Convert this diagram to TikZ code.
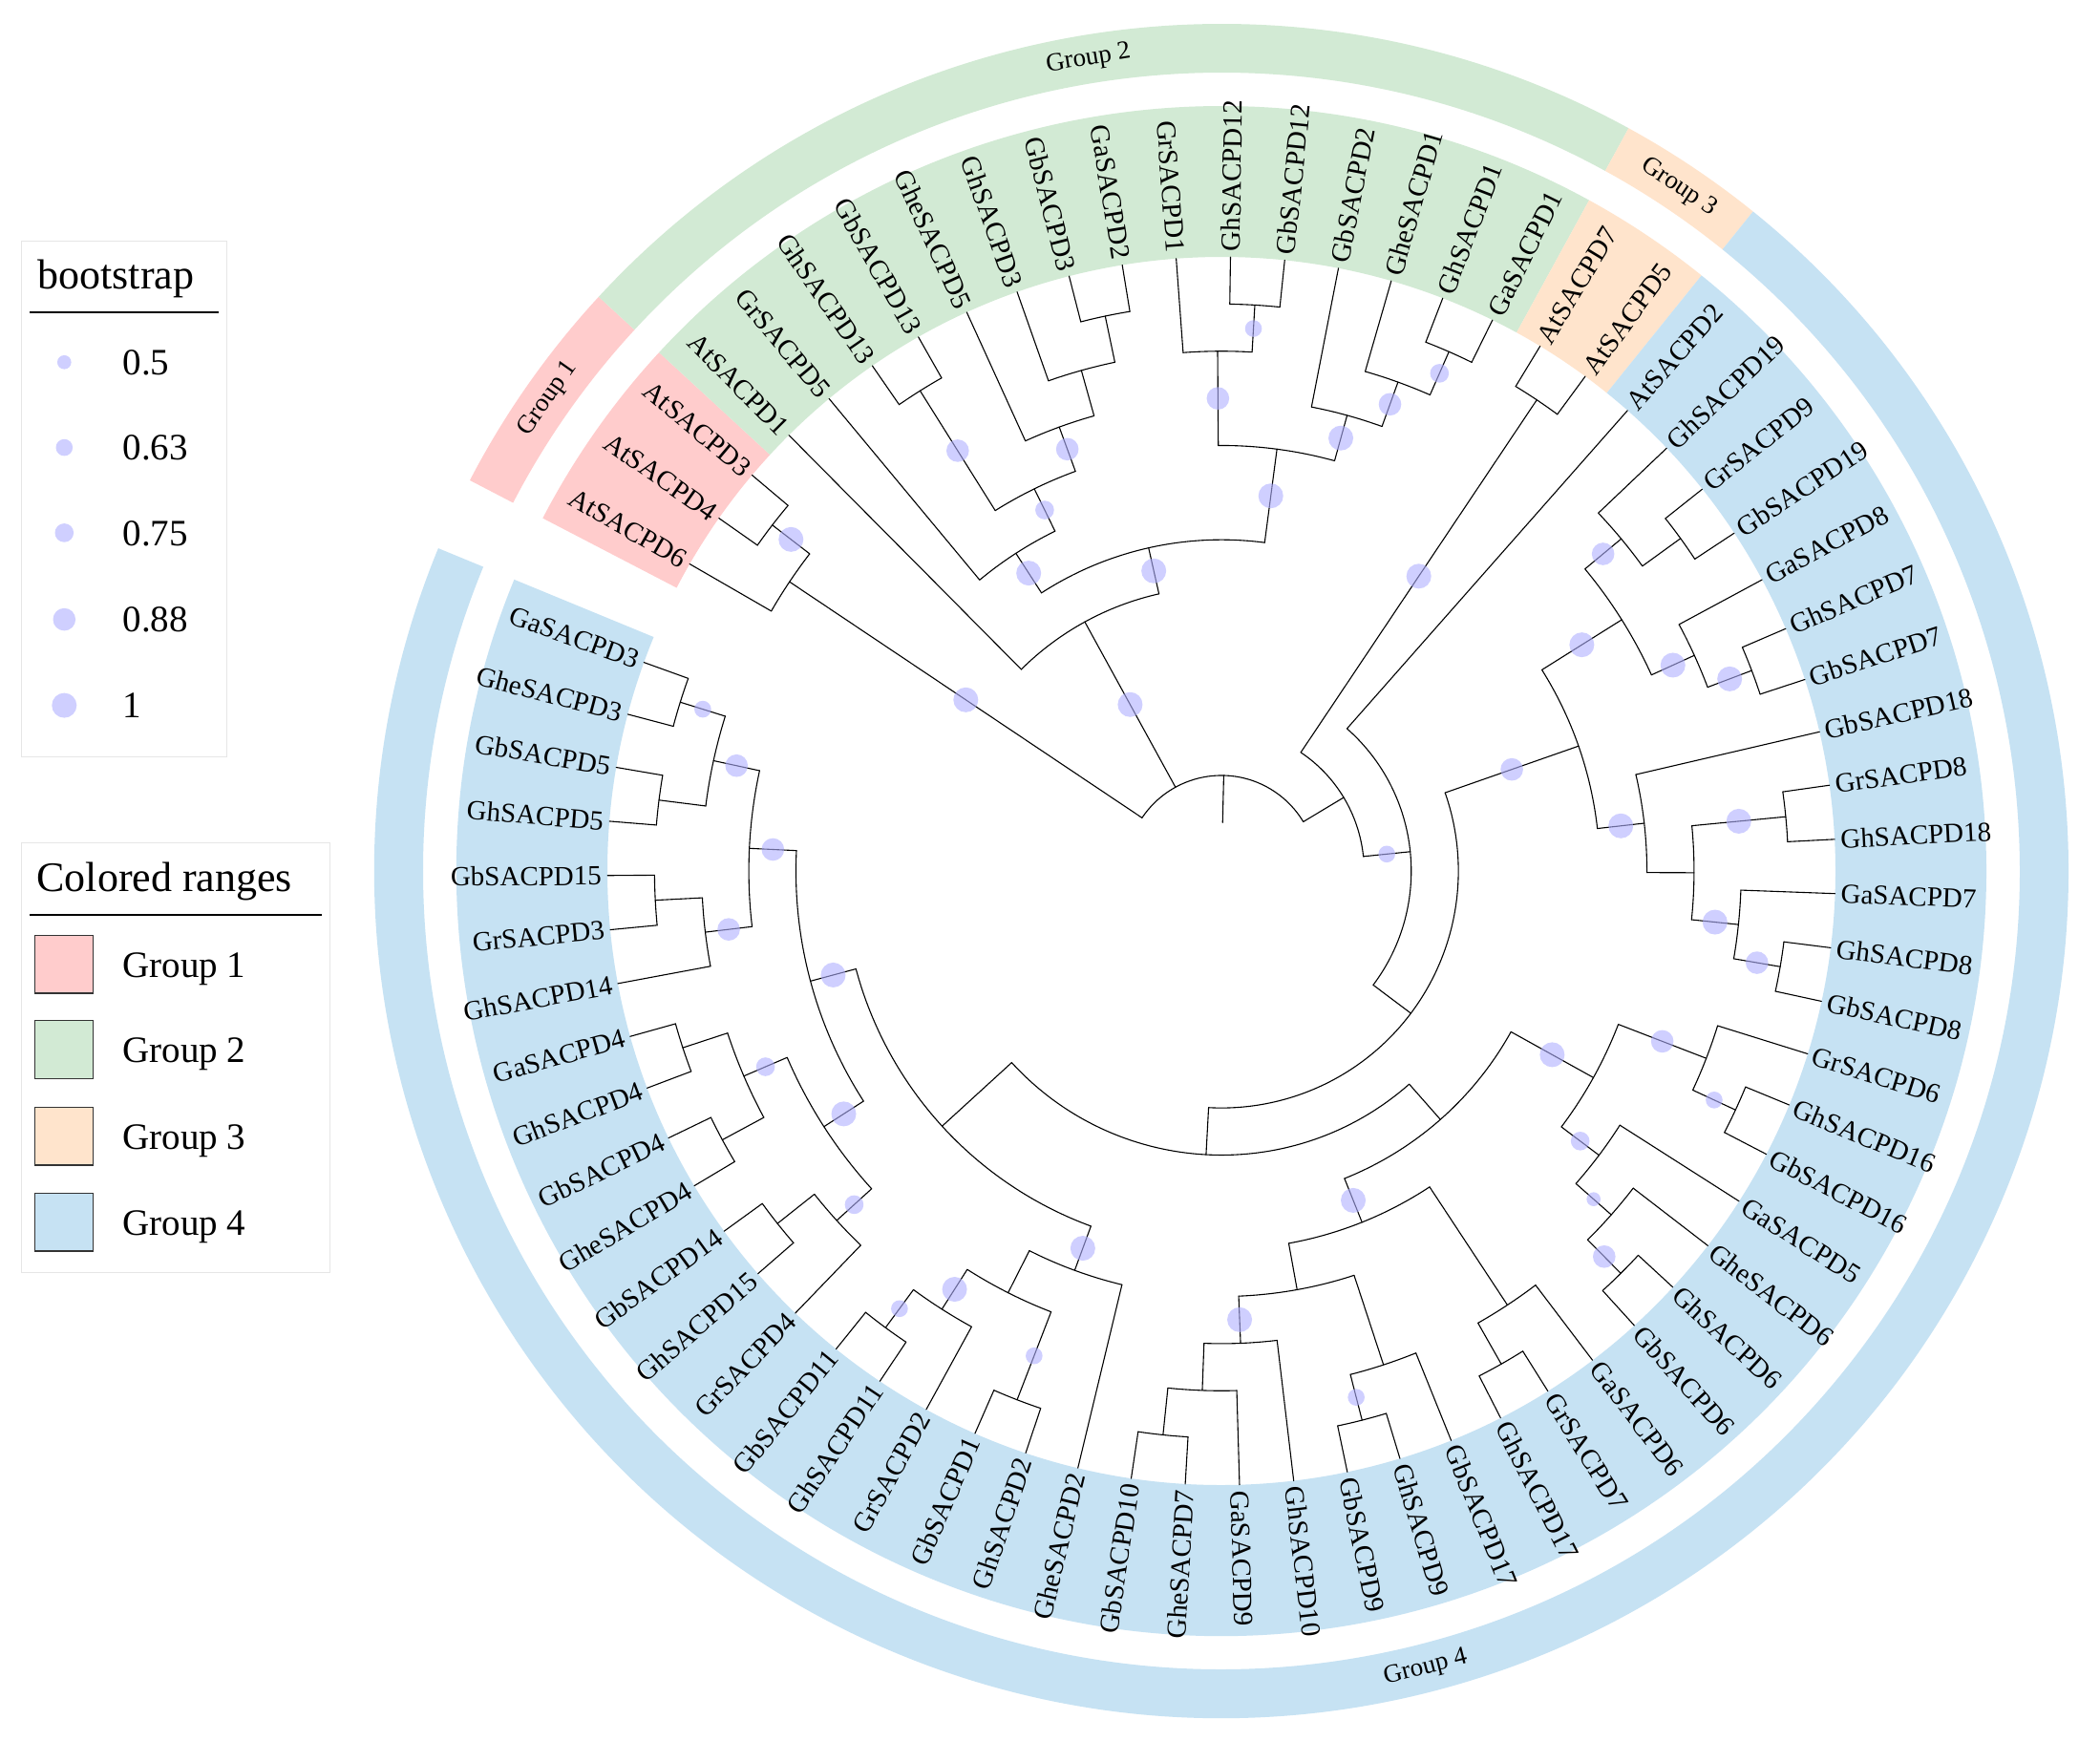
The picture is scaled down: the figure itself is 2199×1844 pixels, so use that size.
\documentclass[tikz,border=0pt]{standalone}
\usepackage{fontspec}
\setmainfont{Liberation Serif}
\definecolor{gone}{RGB}{255,204,204}
\definecolor{gtwo}{RGB}{210,234,212}
\definecolor{gthree}{RGB}{255,228,204}
\definecolor{gfour}{RGB}{198,226,243}
\definecolor{bsc}{RGB}{175,175,255}
\definecolor{legline}{RGB}{230,230,230}
\tikzset{
  br/.style={line width=1.1pt, black, line cap=round},
  bs/.style={fill=bsc, fill opacity=0.6},
  lbl/.style={inner sep=0pt, font=\fontsize{29}{29}\selectfont},
  grp/.style={inner sep=0pt, font=\fontsize{27}{27}\selectfont},
  legbox/.style={draw=legline, line width=1pt},
  legtitle/.style={anchor=base west, inner sep=0pt, font=\fontsize{44}{44}\selectfont},
  legitem/.style={anchor=base west, inner sep=0pt, font=\fontsize{39}{39}\selectfont},
  swatch/.style={draw=black!80, line width=1.5pt}
}
\newcommand\myDA{5.0704225}
% radial edge: child index, parent level, child level
\newcommand\tEdge[3]{\draw[br] ({150-(#1)*\myDA}:{643-49.36*(#2)}) -- ({150-(#1)*\myDA}:{643-49.36*(#3)});}
% arc: level, first index, last index
\newcommand\tArc[3]{\draw[br] ({150-(#2)*\myDA}:{643-49.36*(#1)}) arc[start angle={150-(#2)*\myDA}, end angle={150-(#3)*\myDA}, radius={643-49.36*(#1)}];}
% cherry of two leaves
\newcommand\tCh[2]{\tArc{1}{#1}{#2}\tEdge{#1}{1}{0}\tEdge{#2}{1}{0}}
% bootstrap: child index, parent level, child level, radius
\newcommand\tBs[4]{\fill[bs] ({150-(#1)*\myDA}:{643-24.68*((#2)+(#3))}) circle[radius=#4];}
% leaf labels right / left
\newcommand\tLR[2]{\node[lbl, anchor=west, rotate={150-(#1)*\myDA}] (lf#1) at ({150-(#1)*\myDA}:649) {#2};}
\newcommand\tLL[2]{\node[lbl, anchor=east, rotate={330-(#1)*\myDA}] (lf#1) at ({150-(#1)*\myDA}:649) {#2};}
% annular sector: colour, a1, a2, rin, rout
\newcommand\tSec[5]{\fill[#1] ({#2}:#4) arc[start angle={#2}, end angle={#3}, radius=#4] -- ({#3}:#5) arc[start angle={#3}, end angle={#2}, radius=#5] -- cycle;}
\begin{document}
\begin{tikzpicture}[x=1pt,y=1pt]
\useasboundingbox (0,0) rectangle (2199,-1844);
\fill[white] (0,0) rectangle (2199,-1844);
\begin{scope}[shift={(1279,-912)}]
% colored label bands
\tSec{gone}{152.535}{137.324}{643}{801}
\tSec{gtwo}{137.324}{61.268}{643}{801}
\tSec{gthree}{61.268}{51.127}{643}{801}
\tSec{gfour}{51.127}{-202.394}{643}{801}
% outer ring
\tSec{gone}{152.535}{137.324}{836}{887}
\tSec{gtwo}{137.324}{61.268}{836}{887}
\tSec{gthree}{61.268}{51.127}{836}{887}
\tSec{gfour}{51.127}{-202.394}{836}{887}
\node[grp, rotate=54.93] (grpone) at (144.93:861.5) {Group 1};
\node[grp, rotate=9.30] (grptwo) at (99.30:861.5) {Group 2};
\node[grp, rotate=-33.80] (grpthree) at (56.20:861.5) {Group 3};
\node[grp, rotate=14.37] (grpfour) at (-75.63:861.5) {Group 4};
% ---------------- tree ----------------
% root
\tEdge{12.108}{12}{11}
\tArc{11}{0.75}{23.4658203125}
\tEdge{0.75}{11}{2}\tEdge{6.1640625}{11}{7}\tEdge{23.4658203125}{11}{10}
% group 1
\tArc{2}{0}{1.5}\tEdge{0}{2}{0}\tEdge{1.5}{2}{1}
\tCh{1}{2}
% group 2
\tArc{7}{3}{9.328125}\tEdge{3}{7}{0}\tEdge{9.328125}{7}{6}
\tArc{6}{5.34375}{13.3125}\tEdge{5.34375}{6}{5}\tEdge{13.3125}{6}{4}
\tArc{5}{4}{6.6875}\tEdge{4}{5}{0}\tEdge{6.6875}{5}{4}
\tArc{4}{5.5}{7.875}\tEdge{5.5}{4}{1}\tEdge{7.875}{4}{3}
\tCh{5}{6}
\tArc{3}{7}{8.75}\tEdge{7}{3}{0}\tEdge{8.75}{3}{2}
\tArc{2}{8}{9.5}\tEdge{8}{2}{0}\tEdge{9.5}{2}{1}
\tCh{9}{10}
\tArc{4}{11.75}{14.875}\tEdge{11.75}{4}{2}\tEdge{14.875}{4}{3}
\tArc{2}{11}{12.5}\tEdge{11}{2}{0}\tEdge{12.5}{2}{1}
\tCh{12}{13}
\tArc{3}{14}{15.75}\tEdge{14}{3}{0}\tEdge{15.75}{3}{2}
\tArc{2}{15}{16.5}\tEdge{15}{2}{0}\tEdge{16.5}{2}{1}
\tCh{16}{17}
% right clade
\tArc{10}{18.5}{28.431640625}\tEdge{18.5}{10}{1}\tEdge{28.431640625}{10}{9}
\tCh{18}{19}
\tArc{9}{20}{36.86328125}\tEdge{20}{9}{0}\tEdge{36.86328125}{9}{8}
\tArc{8}{25.78125}{47.9453125}\tEdge{25.78125}{8}{5}\tEdge{47.9453125}{8}{7}
\tArc{5}{23.25}{28.3125}\tEdge{23.25}{5}{3}\tEdge{28.3125}{5}{4}
\tArc{3}{21.75}{24.75}\tEdge{21.75}{3}{2}\tEdge{24.75}{3}{2}
\tArc{2}{21}{22.5}\tEdge{21}{2}{0}\tEdge{22.5}{2}{1}
\tCh{22}{23}
\tArc{2}{24}{25.5}\tEdge{24}{2}{0}\tEdge{25.5}{2}{1}
\tCh{25}{26}
\tArc{4}{27}{29.625}\tEdge{27}{4}{0}\tEdge{29.625}{4}{3}
\tArc{3}{28.5}{30.75}\tEdge{28.5}{3}{1}\tEdge{30.75}{3}{2}
\tCh{28}{29}
\tArc{2}{30}{31.5}\tEdge{30}{2}{0}\tEdge{31.5}{2}{1}
\tCh{31}{32}
% K
\tArc{7}{39.171875}{56.71875}\tEdge{39.171875}{7}{6}\tEdge{56.71875}{7}{5}
\tArc{6}{35.3125}{43.03125}\tEdge{35.3125}{6}{4}\tEdge{43.03125}{6}{5}
\tArc{4}{33.75}{36.875}\tEdge{33.75}{4}{2}\tEdge{36.875}{4}{3}
\tArc{2}{33}{34.5}\tEdge{33}{2}{0}\tEdge{34.5}{2}{1}
\tCh{34}{35}
\tArc{3}{36}{37.75}\tEdge{36}{3}{0}\tEdge{37.75}{3}{2}
\tArc{2}{37}{38.5}\tEdge{37}{2}{0}\tEdge{38.5}{2}{1}
\tCh{38}{39}
\tArc{5}{40.75}{45.3125}\tEdge{40.75}{5}{2}\tEdge{45.3125}{5}{4}
\tArc{2}{40}{41.5}\tEdge{40}{2}{0}\tEdge{41.5}{2}{1}
\tCh{41}{42}
\tArc{4}{43.75}{46.875}\tEdge{43.75}{4}{2}\tEdge{46.875}{4}{3}
\tArc{2}{43}{44.5}\tEdge{43}{2}{0}\tEdge{44.5}{2}{1}
\tCh{44}{45}
\tArc{3}{46}{47.75}\tEdge{46}{3}{0}\tEdge{47.75}{3}{2}
\tArc{2}{47}{48.5}\tEdge{47}{2}{0}\tEdge{48.5}{2}{1}
\tCh{48}{49}
% M
\tArc{5}{51.3125}{62.125}\tEdge{51.3125}{5}{4}\tEdge{62.125}{5}{4}
\tArc{4}{50}{52.625}\tEdge{50}{4}{0}\tEdge{52.625}{4}{3}
\tArc{3}{51.5}{53.75}\tEdge{51.5}{3}{1}\tEdge{53.75}{3}{2}
\tCh{51}{52}
\tArc{2}{53}{54.5}\tEdge{53}{2}{0}\tEdge{54.5}{2}{1}
\tCh{54}{55}
\tArc{4}{58.625}{65.625}\tEdge{58.625}{4}{3}\tEdge{65.625}{4}{3}
\tArc{3}{56.75}{60.5}\tEdge{56.75}{3}{2}\tEdge{60.5}{3}{2}
\tArc{2}{56}{57.5}\tEdge{56}{2}{0}\tEdge{57.5}{2}{1}
\tCh{57}{58}
\tArc{2}{59.5}{61.5}\tEdge{59.5}{2}{1}\tEdge{61.5}{2}{1}
\tCh{59}{60}
\tCh{61}{62}
\tArc{3}{63.75}{67.5}\tEdge{63.75}{3}{2}\tEdge{67.5}{3}{2}
\tArc{2}{63}{64.5}\tEdge{63}{2}{0}\tEdge{64.5}{2}{1}
\tCh{64}{65}
\tArc{2}{66.5}{68.5}\tEdge{66.5}{2}{1}\tEdge{68.5}{2}{1}
\tCh{66}{67}
\tCh{68}{69}
% ---------------- bootstrap ----------------
\tBs{1.5}{2}{1}{13}
\tBs{0.75}{11}{2}{13}
\tBs{6.1640625}{11}{7}{13}
\tBs{9.328125}{7}{6}{13}
\tBs{5.34375}{6}{5}{13}
\tBs{6.6875}{5}{4}{9.8}
\tBs{7.875}{4}{3}{11.8}
\tBs{5.5}{4}{1}{11.8}
\tBs{13.3125}{6}{4}{13}
\tBs{11.75}{4}{2}{11.8}
\tBs{12.5}{2}{1}{8.8}
\tBs{14.875}{4}{3}{13}
\tBs{15.75}{3}{2}{11.8}
\tBs{16.5}{2}{1}{9.8}
\tBs{18.5}{10}{1}{13}
\tBs{28.431640625}{10}{9}{8.8}
\tBs{25.78125}{8}{5}{11.8}
\tBs{23.25}{5}{3}{13}
\tBs{21.75}{3}{2}{11.8}
\tBs{24.75}{3}{2}{13}
\tBs{25.5}{2}{1}{13}
\tBs{28.3125}{5}{4}{13}
\tBs{28.5}{3}{1}{13}
\tBs{30.75}{3}{2}{13}
\tBs{31.5}{2}{1}{11.8}
\tBs{35.3125}{6}{4}{13}
\tBs{33.75}{4}{2}{11.8}
\tBs{34.5}{2}{1}{8.8}
\tBs{36.875}{4}{3}{9.8}
\tBs{37.75}{3}{2}{7.3}
\tBs{38.5}{2}{1}{11.8}
\tBs{43.03125}{6}{5}{13}
\tBs{46.875}{4}{3}{13}
\tBs{44.5}{2}{1}{8.8}
\tBs{62.125}{5}{4}{13}
\tBs{65.625}{4}{3}{11.8}
\tBs{67.5}{3}{2}{11.8}
\tBs{68.5}{2}{1}{8.8}
\tBs{63.75}{3}{2}{11.8}
\tBs{58.625}{4}{3}{13}
\tBs{60.5}{3}{2}{9.8}
\tBs{56.75}{3}{2}{9.8}
\tBs{51.3125}{5}{4}{13}
\tBs{53.75}{3}{2}{13}
\tBs{54.5}{2}{1}{8.8}
\tBs{51.5}{3}{1}{8.8}
% ---------------- leaf labels ----------------
\tLL{0}{AtSACPD6}
\tLL{1}{AtSACPD4}
\tLL{2}{AtSACPD3}
\tLL{3}{AtSACPD1}
\tLL{4}{GrSACPD5}
\tLL{5}{GhSACPD13}
\tLL{6}{GbSACPD13}
\tLL{7}{GheSACPD5}
\tLL{8}{GhSACPD3}
\tLL{9}{GbSACPD3}
\tLL{10}{GaSACPD2}
\tLL{11}{GrSACPD1}
\tLR{12}{GhSACPD12}
\tLR{13}{GbSACPD12}
\tLR{14}{GbSACPD2}
\tLR{15}{GheSACPD1}
\tLR{16}{GhSACPD1}
\tLR{17}{GaSACPD1}
\tLR{18}{AtSACPD7}
\tLR{19}{AtSACPD5}
\tLR{20}{AtSACPD2}
\tLR{21}{GhSACPD19}
\tLR{22}{GrSACPD9}
\tLR{23}{GbSACPD19}
\tLR{24}{GaSACPD8}
\tLR{25}{GhSACPD7}
\tLR{26}{GbSACPD7}
\tLR{27}{GbSACPD18}
\tLR{28}{GrSACPD8}
\tLR{29}{GhSACPD18}
\tLR{30}{GaSACPD7}
\tLR{31}{GhSACPD8}
\tLR{32}{GbSACPD8}
\tLR{33}{GrSACPD6}
\tLR{34}{GhSACPD16}
\tLR{35}{GbSACPD16}
\tLR{36}{GaSACPD5}
\tLR{37}{GheSACPD6}
\tLR{38}{GhSACPD6}
\tLR{39}{GbSACPD6}
\tLR{40}{GaSACPD6}
\tLR{41}{GrSACPD7}
\tLR{42}{GhSACPD17}
\tLR{43}{GbSACPD17}
\tLR{44}{GhSACPD9}
\tLR{45}{GbSACPD9}
\tLR{46}{GhSACPD10}
\tLR{47}{GaSACPD9}
\tLL{48}{GheSACPD7}
\tLL{49}{GbSACPD10}
\tLL{50}{GheSACPD2}
\tLL{51}{GhSACPD2}
\tLL{52}{GbSACPD1}
\tLL{53}{GrSACPD2}
\tLL{54}{GhSACPD11}
\tLL{55}{GbSACPD11}
\tLL{56}{GrSACPD4}
\tLL{57}{GhSACPD15}
\tLL{58}{GbSACPD14}
\tLL{59}{GheSACPD4}
\tLL{60}{GbSACPD4}
\tLL{61}{GhSACPD4}
\tLL{62}{GaSACPD4}
\tLL{63}{GhSACPD14}
\tLL{64}{GrSACPD3}
\tLL{65}{GbSACPD15}
\tLL{66}{GhSACPD5}
\tLL{67}{GbSACPD5}
\tLL{68}{GheSACPD3}
\tLL{69}{GaSACPD3}
\end{scope}
% ---------------- legend ----------------
\draw[legbox] (22.7,-252.9) rectangle (237.3,-792);
\node[legtitle] (bttitle) at (39.3,-302.9) {bootstrap};
\draw[line width=1.2pt] (31,-327) -- (229.3,-327);
\fill[bs] (67.3,-379.3) circle[radius=7.3];
\fill[bs] (67.3,-468.6) circle[radius=8.8];
\fill[bs] (67.3,-557.9) circle[radius=9.8];
\fill[bs] (67.3,-648.6) circle[radius=11.8];
\fill[bs] (67.3,-738.6) circle[radius=13];
\node[legitem] (bta) at (128.3,-392.5) {0.5};
\node[legitem] (btb) at (128.3,-481.8) {0.63};
\node[legitem] (btc) at (128.3,-571.1) {0.75};
\node[legitem] (btd) at (128.3,-661.8) {0.88};
\node[legitem] (bte) at (128.3,-751.8) {1};
\draw[legbox] (22.7,-882.9) rectangle (345,-1332.9);
\node[legtitle] (crtitle) at (38.3,-933) {Colored ranges};
\draw[line width=1.2pt] (31,-957.9) -- (337.3,-957.9);
\filldraw[swatch, fill=gone] (36.7,-979.3) rectangle (97.7,-1040);
\filldraw[swatch, fill=gtwo] (36.7,-1068.6) rectangle (97.7,-1129.3);
\filldraw[swatch, fill=gthree] (36.7,-1159.3) rectangle (97.7,-1220);
\filldraw[swatch, fill=gfour] (36.7,-1249.3) rectangle (97.7,-1310);
\node[legitem] (cra) at (128.3,-1023.2) {Group 1};
\node[legitem] (crb) at (128.3,-1112.5) {Group 2};
\node[legitem] (crc) at (128.3,-1203.2) {Group 3};
\node[legitem] (crd) at (128.3,-1293.2) {Group 4};
\end{tikzpicture}
\end{document}
